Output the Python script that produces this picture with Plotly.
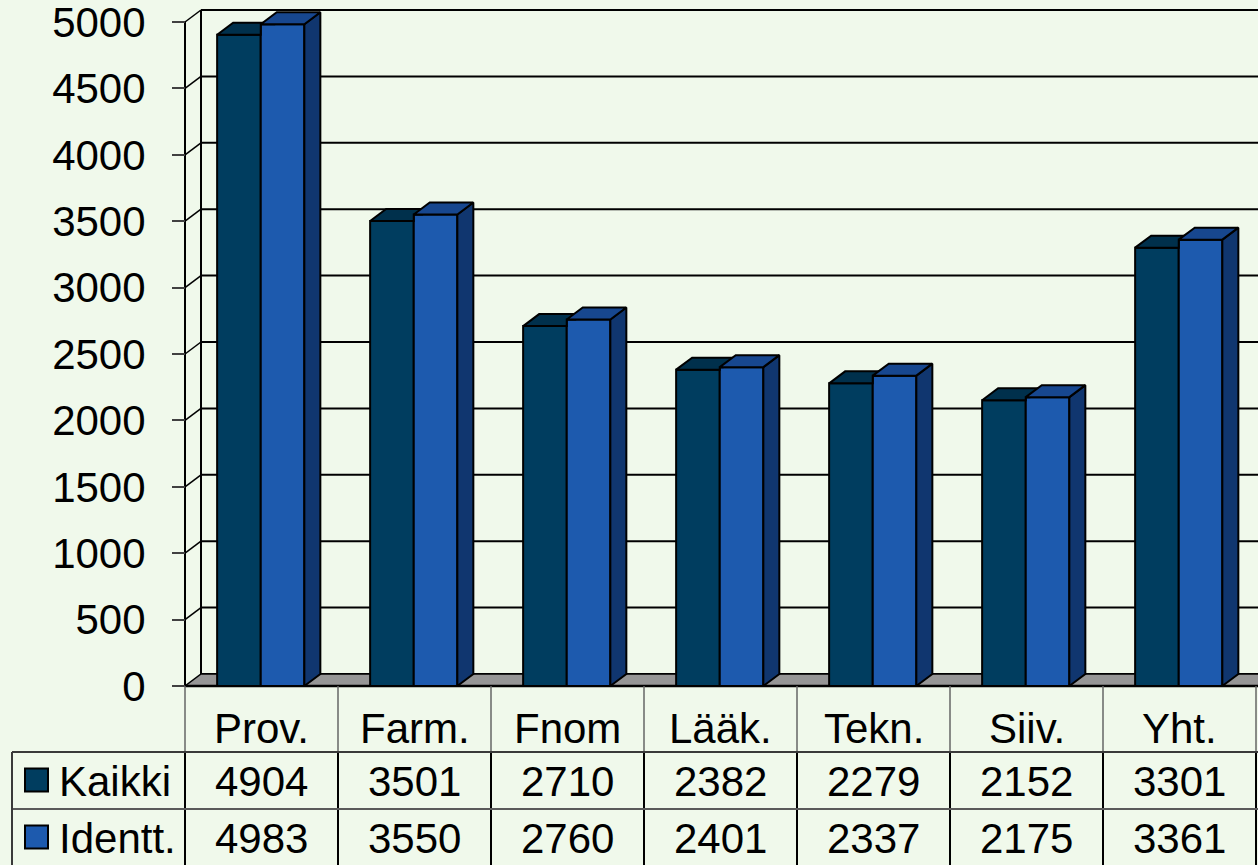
import plotly.graph_objects as go

# ---------------- data ----------------
categories = ["Prov.", "Farm.", "Fnom", "Lääk.", "Tekn.", "Siiv.", "Yht."]
series_names = ["Kaikki", "Identt."]
kaikki = [4904, 3501, 2710, 2382, 2279, 2152, 3301]
identt = [4983, 3550, 2760, 2401, 2337, 2175, 3361]
y_ticks = [0, 500, 1000, 1500, 2000, 2500, 3000, 3500, 4000, 4500, 5000]

# ---------------- style / geometry ----------------
W, H = 1258, 865
BG = "#F0F9EB"
FONT = "Liberation Sans, Arial, sans-serif"
FS = 42
C_K_FRONT, C_K_TOP = "#003D5F", "#00304C"
C_I_FRONT, C_I_TOP, C_I_SIDE = "#1D5AAE", "#17478F", "#10366F"
FLOOR = "#969696"

COL_PX = 153.0          # pixels per category column
X0_PX = 185.0           # pixel x of left edge of first column (x = -0.5)
Y0_PX = 686.0           # pixel y of value 0
YTOP_PX = 22.0          # pixel y of value 5000
YU = 5000.0 / (Y0_PX - YTOP_PX)   # data units per pixel (vertical)

XA = -0.5 - X0_PX / COL_PX
XB = XA + W / COL_PX
YT = Y0_PX * YU
YB = -(H - Y0_PX) * YU

DX = 16.0 / COL_PX      # depth offset (x)
DY = 12.0 * YU          # depth offset (y)

BW = 0.285
OFF_K, OFF_I = -0.29, -0.005


def xpx(p):
    return XA + p / COL_PX


def ypx(q):
    return (Y0_PX - q) * YU


n = len(categories)
xs = list(range(n))

fig = go.Figure()

# front faces
fig.add_trace(go.Bar(x=xs, y=kaikki, width=BW, offset=OFF_K, name=series_names[0],
                     marker=dict(color=C_K_FRONT, line=dict(color="black", width=2)),
                     hoverinfo="skip", showlegend=False))
fig.add_trace(go.Bar(x=xs, y=identt, width=BW, offset=OFF_I, name=series_names[1],
                     marker=dict(color=C_I_FRONT, line=dict(color="black", width=2)),
                     hoverinfo="skip", showlegend=False))

# Kaikki top faces (clipped by Identt front)
kx, ky = [], []
for i, (v, v2) in enumerate(zip(kaikki, identt)):
    x0 = i + OFF_K
    x1 = i + OFF_I
    pts = [(x0, v), (x1, v)]
    if v2 < v + DY:
        pts.append((x1, v2))
        pts.append((x1 + DX * (v2 - v) / DY, v2))
        pts.append((x1 + DX, v + DY))
    else:
        pts.append((x1, v + DY))
    pts.append((x0 + DX, v + DY))
    pts.append((x0, v))
    kx += [p[0] for p in pts] + [None]
    ky += [p[1] for p in pts] + [None]
fig.add_trace(go.Scatter(x=kx, y=ky, mode="lines", fill="toself", fillcolor=C_K_TOP,
                         line=dict(color="black", width=2), hoverinfo="skip", showlegend=False))

# Identt top faces and side faces
tx, ty, sx, sy = [], [], [], []
for i, v in enumerate(identt):
    x0 = i + OFF_I
    x1 = x0 + BW
    tx += [x0, x1, x1 + DX, x0 + DX, x0, None]
    ty += [v, v, v + DY, v + DY, v, None]
    sx += [x1, x1 + DX, x1 + DX, x1, x1, None]
    sy += [0, DY, v + DY, v, 0, None]
fig.add_trace(go.Scatter(x=sx, y=sy, mode="lines", fill="toself", fillcolor=C_I_SIDE,
                         line=dict(color="black", width=2), hoverinfo="skip", showlegend=False))
fig.add_trace(go.Scatter(x=tx, y=ty, mode="lines", fill="toself", fillcolor=C_I_TOP,
                         line=dict(color="black", width=2), hoverinfo="skip", showlegend=False))

shapes = []
# back wall gridlines + left wall diagonals
for t in y_ticks:
    shapes.append(dict(type="line", xref="x", yref="y", x0=-0.5 + DX, x1=XB + 1, y0=t + DY, y1=t + DY,
                       line=dict(color="black", width=2), layer="below"))
    if t > 0:
        shapes.append(dict(type="line", xref="x", yref="y", x0=-0.5, x1=-0.5 + DX, y0=t, y1=t + DY,
                           line=dict(color="black", width=1.5), layer="below"))
# left wall edges
shapes.append(dict(type="line", xref="x", yref="y", x0=-0.5, x1=-0.5, y0=0, y1=y_ticks[-1],
                   line=dict(color="black", width=2), layer="below"))
shapes.append(dict(type="line", xref="x", yref="y", x0=-0.5 + DX, x1=-0.5 + DX, y0=DY, y1=y_ticks[-1] + DY,
                   line=dict(color="black", width=2), layer="below"))
# floor
shapes.append(dict(type="path", xref="x", yref="y",
                   path=f"M {-0.5} 0 L {XB + 1} 0 L {XB + 1 + DX} {DY} L {-0.5 + DX} {DY} Z",
                   fillcolor=FLOOR, line=dict(color="black", width=1.5), layer="below"))
shapes.append(dict(type="line", xref="x", yref="y", x0=-0.5, x1=XB + 1, y0=0, y1=0,
                   line=dict(color="black", width=2.5), layer="below"))

# table lines
y_hdr_bot = ypx(752)
y_row_mid = ypx(809)
for i in range(n + 1):
    xb = i - 0.5
    shapes.append(dict(type="line", xref="x", yref="y", x0=xb, x1=xb, y0=0, y1=y_hdr_bot,
                       line=dict(color="#666666", width=1.5)))
    shapes.append(dict(type="line", xref="x", yref="y", x0=xb, x1=xb, y0=y_hdr_bot, y1=YB,
                       line=dict(color="black", width=2)))
shapes.append(dict(type="line", xref="x", yref="y", x0=xpx(12), x1=XB + 1, y0=y_hdr_bot, y1=y_hdr_bot,
                   line=dict(color="#3a3a3a", width=2)))
shapes.append(dict(type="line", xref="x", yref="y", x0=xpx(12), x1=XB + 1, y0=y_row_mid, y1=y_row_mid,
                   line=dict(color="#5a5a5a", width=2)))
shapes.append(dict(type="line", xref="x", yref="y", x0=xpx(12), x1=xpx(12), y0=y_hdr_bot, y1=YB,
                   line=dict(color="#3a3a3a", width=2)))

# legend keys
row_centers_px = [780, 837]
key_colors = [C_K_FRONT, C_I_FRONT]
for rc, col in zip(row_centers_px, key_colors):
    shapes.append(dict(type="rect", xref="x", yref="y", x0=xpx(25), x1=xpx(48),
                       y0=ypx(rc - 11.5), y1=ypx(rc + 11.5),
                       fillcolor=col, line=dict(color="black", width=2)))

annotations = []
tf = dict(family=FONT, size=FS, color="black")
for i, c in enumerate(categories):
    annotations.append(dict(x=i, y=ypx(728), xref="x", yref="y", text=c, showarrow=False,
                            font=tf, xanchor="center", yanchor="middle"))
for rc, name, vals in zip(row_centers_px, series_names, [kaikki, identt]):
    annotations.append(dict(x=xpx(57), y=ypx(rc + 1), xref="x", yref="y", text=name, showarrow=False,
                            font=tf, xanchor="left", yanchor="middle"))
    for i, v in enumerate(vals):
        annotations.append(dict(x=i, y=ypx(rc + 1), xref="x", yref="y", text=str(v), showarrow=False,
                                font=tf, xanchor="center", yanchor="middle"))

fig.update_layout(
    width=W, height=H,
    margin=dict(l=0, r=0, t=0, b=0, pad=0),
    paper_bgcolor=BG, plot_bgcolor=BG,
    barmode="overlay",
    showlegend=False,
    shapes=shapes,
    annotations=annotations,
    xaxis=dict(range=[XA, XB], visible=False, fixedrange=True),
    yaxis=dict(range=[YB, YT], tickvals=y_ticks, ticktext=[str(t) for t in y_ticks],
               ticks="outside", ticklen=13, tickwidth=2, tickcolor="#404040",
               showgrid=False, zeroline=False, showline=False,
               anchor="free", position=X0_PX / W,
               tickfont=tf, ticklabelstandoff=18, ticklabeloverflow="allow",
               fixedrange=True),
)

fig.write_html("out.html", post_script="document.body.style.margin='0';",
               config={"displayModeBar": False})
